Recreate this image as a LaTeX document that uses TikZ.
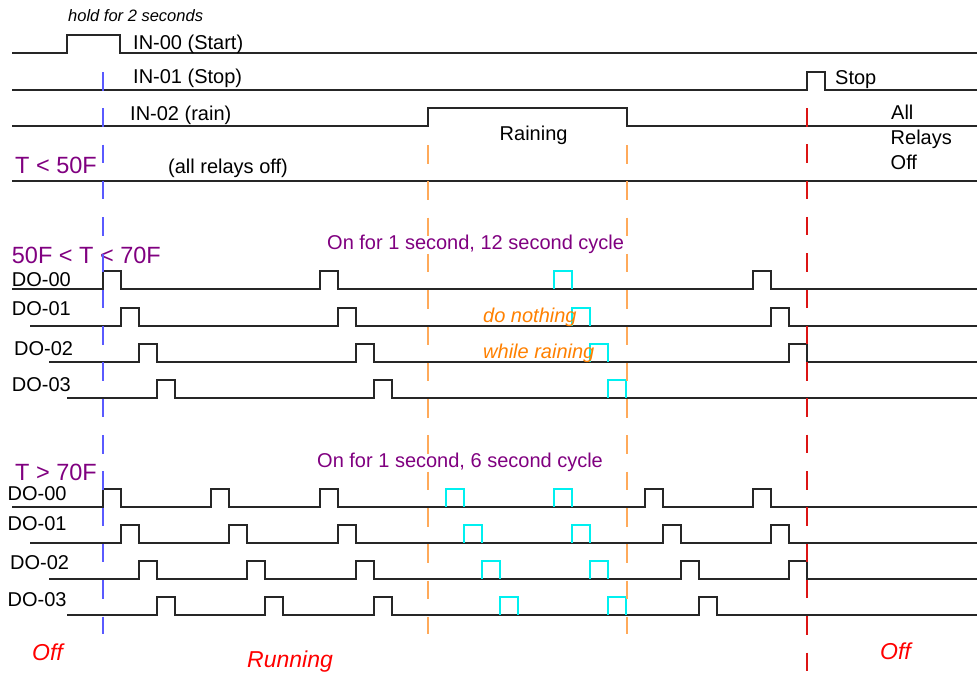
\documentclass[tikz,border=0pt]{standalone}
\usepackage{fontspec}
\setmainfont{Liberation Sans}
\definecolor{purp}{RGB}{128,0,128}
\definecolor{orgtxt}{RGB}{255,128,0}
\definecolor{orgdash}{RGB}{255,170,90}
\definecolor{bluedash}{RGB}{90,90,255}
\definecolor{reddash}{RGB}{220,20,20}
\definecolor{redtxt}{RGB}{255,0,0}
\definecolor{cyanp}{RGB}{0,240,240}
\begin{document}
\begin{tikzpicture}[x=1pt,y=-1pt,
  sig/.style={line width=1.2pt, draw=black!85, line join=miter},
  cyp/.style={line width=1.2pt, draw=cyanp},
  vdash/.style={line width=1.3pt, dash pattern=on 18.5pt off 17.8pt},
  lbl/.style={inner sep=0pt, anchor=base west, font=\fontsize{20}{24}\selectfont},
  big/.style={inner sep=0pt, anchor=base west, font=\fontsize{23.5}{28}\selectfont, text=purp},
  ptxt/.style={lbl, text=purp},
  otxt/.style={lbl, text=orgtxt, font=\fontsize{20}{24}\selectfont\itshape},
  rtxt/.style={inner sep=0pt, anchor=base west, text=redtxt, font=\fontsize{23}{28}\selectfont\itshape},
  small/.style={inner sep=0pt, anchor=base west, font=\fontsize{16.5}{20}\selectfont\itshape}
]
\useasboundingbox (0,0) rectangle (977,673);

% ---------- inputs ----------
\draw[sig] (12,53) -- (67,53) -- (67,35) -- (120,35) -- (120,53) -- (977,53);
\draw[sig] (12,90) -- (807,90) -- (807,72) -- (825,72) -- (825,90) -- (977,90);
\draw[sig] (12,126) -- (428,126) -- (428,108) -- (627,108) -- (627,126) -- (977,126);
\draw[sig] (12,181) -- (977,181);

\node[small] (hold) at (68,21) {hold for 2 seconds};
\node[lbl] (in0) at (133,49) {IN-00 (Start)};
\node[lbl] (in1) at (133,83) {IN-01 (Stop)};
\node[lbl] (in2) at (130,120.5) {IN-02 (rain)};
\node[lbl] (rain) at (499.5,140) {Raining};
\node[lbl] (stop) at (835,84) {Stop};
\node[lbl] (all1) at (891,119) {All};
\node[lbl] (all2) at (890.5,144) {Relays};
\node[lbl] (all3) at (890.5,169) {Off};
\node[big] (tlow) at (15,173) {T < 50F};
\node[lbl] (alloff) at (168,173) {(all relays off)};

% ---------- 50F < T < 70F ----------
\node[ptxt] (cyc12) at (327,249) {On for 1 second, 12 second cycle};
\node[big] (tmid) at (11.7,263) {50F < T < 70F};
\node[lbl] (ma) at (11.7,286) {DO-00};
\node[lbl] (mb) at (11.7,315) {DO-01};
\node[lbl] (mc) at (14,355) {DO-02};
\node[lbl] (md) at (11.7,391.7) {DO-03};

\draw[sig] (12,289) foreach \x in {103,320,753}{ -- (\x,289) -- (\x,271) -- (\x+18,271) -- (\x+18,289)} -- (977,289);
\draw[sig] (30,326) foreach \x in {121,338,771}{ -- (\x,326) -- (\x,308) -- (\x+18,308) -- (\x+18,326)} -- (977,326);
\draw[sig] (49,362) foreach \x in {139,356,789}{ -- (\x,362) -- (\x,344) -- (\x+18,344) -- (\x+18,362)} -- (977,362);
\draw[sig] (67,398) foreach \x in {157,374}{ -- (\x,398) -- (\x,380) -- (\x+18,380) -- (\x+18,398)} -- (977,398);

\draw[cyp] (554,289) |- (572,271) -- (572,289);
\draw[cyp] (572,326) |- (590,308) -- (590,326);
\draw[cyp] (590,362) |- (608,344) -- (608,362);
\draw[cyp] (608,398) |- (626,380) -- (626,398);

\node[otxt] (dono) at (483,322) {do nothing};
\node[otxt] (whra) at (483,358) {while raining};

% ---------- T > 70F ----------
\node[ptxt] (cyc6) at (317,467) {On for 1 second, 6 second cycle};
\node[big] (thigh) at (15,480) {T > 70F};
\node[lbl] (ba) at (7.4,500.7) {DO-00};
\node[lbl] (bb) at (7.4,530.7) {DO-01};
\node[lbl] (bc) at (10,569) {DO-02};
\node[lbl] (bd) at (7.4,606.7) {DO-03};

\draw[sig] (12,507) foreach \x in {103,211,320,645,753}{ -- (\x,507) -- (\x,489) -- (\x+18,489) -- (\x+18,507)} -- (977,507);
\draw[sig] (30,543) foreach \x in {121,229,338,663,771}{ -- (\x,543) -- (\x,525) -- (\x+18,525) -- (\x+18,543)} -- (977,543);
\draw[sig] (49,579) foreach \x in {139,247,356,681,789}{ -- (\x,579) -- (\x,561) -- (\x+18,561) -- (\x+18,579)} -- (977,579);
\draw[sig] (67,615) foreach \x in {157,265,374,699}{ -- (\x,615) -- (\x,597) -- (\x+18,597) -- (\x+18,615)} -- (977,615);

\foreach \x/\y in {446/507,554/507,464/543,572/543,482/579,590/579,500/615,608/615}
  \draw[cyp] (\x,\y) |- (\x+18,\y-18) -- (\x+18,\y);

% ---------- state labels ----------
\node[rtxt] (off1) at (32,660.7) {Off};
\node[rtxt] (runn) at (247,667) {Running};
\node[rtxt] (off2) at (880,659) {Off};

% ---------- dashed markers ----------
\draw[vdash, draw=bluedash] (103,72) -- (103,634);
\draw[vdash, draw=orgdash] (428,145) -- (428,634);
\draw[vdash, draw=orgdash] (627,145) -- (627,634);
\draw[vdash, draw=reddash] (807,108) -- (807,671);
\end{tikzpicture}
\end{document}
